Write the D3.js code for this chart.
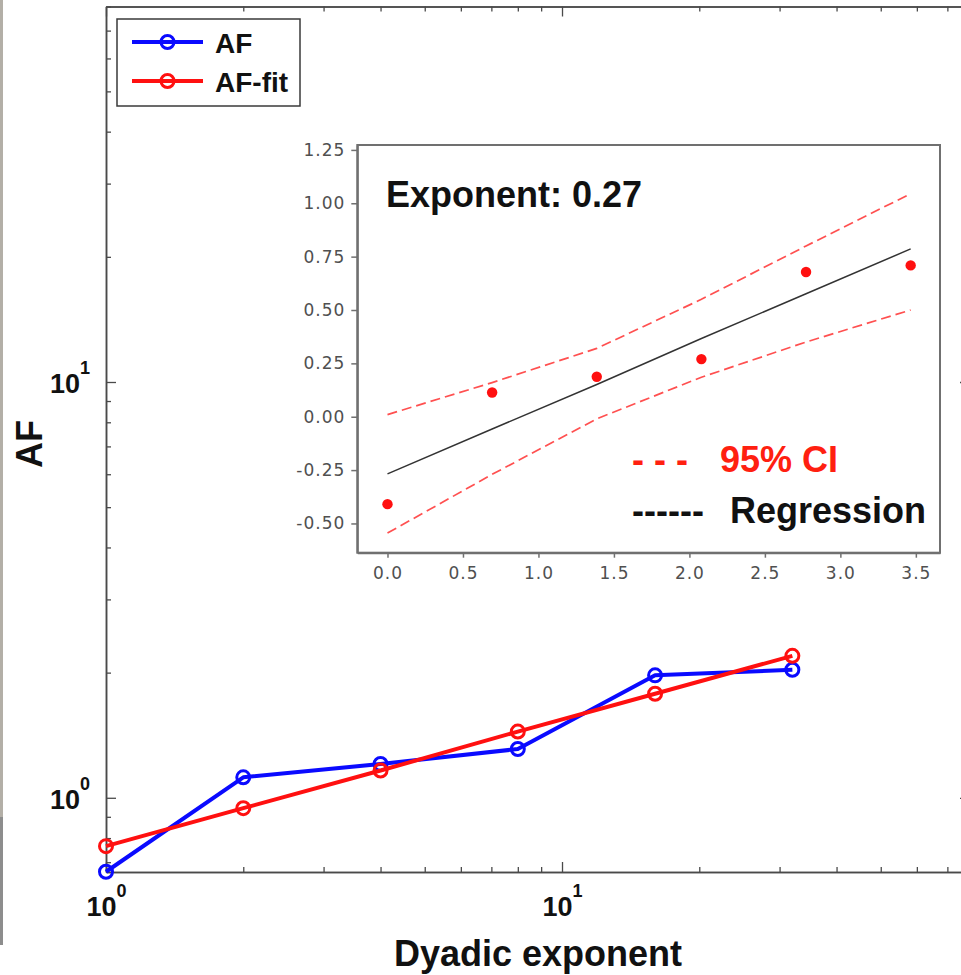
<!DOCTYPE html>
<html>
<head>
<meta charset="utf-8">
<script src="https://cdn.jsdelivr.net/npm/d3@7"></script>
<style>
  html, body { margin: 0; padding: 0; background: #fff; overflow: hidden; }
  svg { display: block; }
</style>
</head>
<body>
<svg id="chart" width="961" height="975"></svg>
<script>
// ---- data ----
const scales = [1, 2, 4, 8, 16, 32];                       // dyadic scale 2^j
const afValues = [0.664, 1.120, 1.206, 1.310, 1.970, 2.032];
const afFitValues = [0.765, 0.944, 1.163, 1.443, 1.779, 2.195];
// 95% confidence band of the log-log regression (natural log units)
const ciUpper = [0.010, 0.160, 0.320, 0.550, 0.800, 1.045];
const ciLower = [-0.545, -0.270, -0.010, 0.185, 0.350, 0.500];
const majorTicks = [1, 10];
const minorTicksX = [2, 3, 4, 5, 6, 7, 8, 9, 20, 30, 40, 50, 60, 70];
const minorTicksY = [0.7, 0.8, 0.9, 2, 3, 4, 5, 6, 7, 8, 9, 20, 30, 40, 50, 60, 70, 80];
const insetXTicks = [0, 0.5, 1, 1.5, 2, 2.5, 3, 3.5];
const insetYTicks = [-0.5, -0.25, 0, 0.25, 0.5, 0.75, 1, 1.25];
const seriesNames = ["AF", "AF-fit"];
const exponentText = "Exponent: 0.27";

const BLUE = "#0a0aff", RED = "#ff1010";
const SANS = "'Liberation Sans', Arial, Helvetica, sans-serif";
const INSET_FONT = "'DejaVu Sans', Verdana, sans-serif";

const svg = d3.select("#chart");

// left border strip of the window
svg.append("rect").attr("x", 0).attr("y", 0).attr("width", 3).attr("height", 817).attr("fill", "#b3afa7");
svg.append("rect").attr("x", 0).attr("y", 817).attr("width", 3).attr("height", 128).attr("fill", "#8d8d8d");

// ---- main log-log axes ----
const L = 106, R = 970, T = 6.5, B = 872;
const x = d3.scaleLog().domain([1, 78.47]).range([L, R]);
const y = d3.scaleLog().domain([0.663, 80]).range([B, T]);

const axisColor = "#4a4a4a";
function styleAxis(g) {
  g.select(".domain").attr("stroke", axisColor).attr("stroke-width", 1.5);
  g.selectAll(".tick line").attr("stroke", axisColor).attr("stroke-width", 1.3);
}
function powerLabels(g, anchor) {
  g.selectAll(".tick text").each(function (d) {
    const t = d3.select(this);
    t.text(null).attr("fill", "#111").attr("font-family", SANS).attr("font-size", 27)
      .attr("font-weight", "bold").attr("text-anchor", anchor);
    t.append("tspan").text("10");
    t.append("tspan").attr("dy", -19).attr("font-size", 18).text(Math.round(Math.log10(d)));
  });
}

// bottom axis
const gx = svg.append("g").attr("transform", `translate(0,${B})`);
gx.call(d3.axisBottom(x).tickValues(minorTicksX).tickSize(-5).tickSizeOuter(0).tickFormat(""));
gx.call(styleAxis);
const gxMaj = svg.append("g").attr("transform", `translate(0,${B})`);
gxMaj.call(d3.axisBottom(x).tickValues(majorTicks).tickSize(-10).tickSizeOuter(0).tickPadding(25).tickFormat(d => d));
gxMaj.call(styleAxis).call(g => powerLabels(g, "middle"));
gxMaj.selectAll(".tick text").attr("dy", "0.71em");

// top axis (mirrored ticks)
const gt = svg.append("g").attr("transform", `translate(0,${T})`);
gt.call(d3.axisTop(x).tickValues(minorTicksX).tickSize(-5).tickSizeOuter(0).tickFormat(""));
gt.call(styleAxis);
const gtMaj = svg.append("g").attr("transform", `translate(0,${T})`);
gtMaj.call(d3.axisTop(x).tickValues(majorTicks).tickSize(-10).tickSizeOuter(0).tickFormat(""));
gtMaj.call(styleAxis);

// left axis
const gy = svg.append("g").attr("transform", `translate(${L},0)`);
gy.call(d3.axisLeft(y).tickValues(minorTicksY).tickSize(-5).tickSizeOuter(0).tickFormat(""));
gy.call(styleAxis);
const gyMaj = svg.append("g").attr("transform", `translate(${L},0)`);
gyMaj.call(d3.axisLeft(y).tickValues(majorTicks).tickSize(-10).tickSizeOuter(0).tickPadding(16).tickFormat(d => d));
gyMaj.call(styleAxis).call(g => powerLabels(g, "end"));
gyMaj.selectAll(".tick text").attr("dy", "0.38em");

// right axis (mirrored ticks)
const gr = svg.append("g").attr("transform", `translate(${R},0)`);
gr.call(d3.axisRight(y).tickValues(minorTicksY).tickSize(-5).tickSizeOuter(0).tickFormat(""));
gr.call(styleAxis);
const grMaj = svg.append("g").attr("transform", `translate(${R},0)`);
grMaj.call(d3.axisRight(y).tickValues(majorTicks).tickSize(-10).tickSizeOuter(0).tickFormat(""));
grMaj.call(styleAxis);

// axis titles
svg.append("text")
  .attr("transform", `translate(41.5,444) rotate(-90)`)
  .attr("text-anchor", "middle").attr("font-family", SANS).attr("font-weight", "bold")
  .attr("font-size", 36).attr("fill", "#111").text("AF");
svg.append("text")
  .attr("x", (L + R) / 2).attr("y", 966)
  .attr("text-anchor", "middle").attr("font-family", SANS).attr("font-weight", "bold")
  .attr("font-size", 36).attr("fill", "#111").text("Dyadic exponent");

// ---- main series ----
const mainSeries = [
  { name: seriesNames[0], values: afValues, color: BLUE },
  { name: seriesNames[1], values: afFitValues, color: RED }
];
const line = d3.line().x(d => x(d[0])).y(d => y(d[1]));
mainSeries.forEach(s => {
  const pts = scales.map((sc, i) => [sc, s.values[i]]);
  const g = svg.append("g");
  g.append("path").datum(pts).attr("d", line)
    .attr("fill", "none").attr("stroke", s.color).attr("stroke-width", 4)
    .attr("stroke-linejoin", "round");
  g.selectAll("circle").data(pts).join("circle")
    .attr("cx", d => x(d[0])).attr("cy", d => y(d[1])).attr("r", 6.5)
    .attr("fill", "none").attr("stroke", s.color).attr("stroke-width", 3);
});

// ---- legend ----
const lg = svg.append("g");
lg.append("rect").attr("x", 117).attr("y", 19).attr("width", 183).attr("height", 87)
  .attr("fill", "#fff").attr("stroke", "#3a3a3a").attr("stroke-width", 1.5);
mainSeries.forEach((s, i) => {
  const yy = 42 + i * 39;
  lg.append("line").attr("x1", 132).attr("x2", 203).attr("y1", yy).attr("y2", yy)
    .attr("stroke", s.color).attr("stroke-width", 4);
  lg.append("circle").attr("cx", 167.5).attr("cy", yy).attr("r", 6.5)
    .attr("fill", "none").attr("stroke", s.color).attr("stroke-width", 3);
  lg.append("line").attr("x1", 164).attr("x2", 171).attr("y1", yy).attr("y2", yy)
    .attr("stroke", s.color).attr("stroke-width", 1.5);
  lg.append("text").attr("x", 215).attr("y", yy + 11)
    .attr("font-family", SANS).attr("font-weight", "bold").attr("font-size", 28)
    .attr("fill", "#111").text(s.name);
});

// ---- inset: log-log regression ----
const IL = 357.3, IR = 940, IT = 145, IB = 552.7;
const ix = d3.scaleLinear().domain([-0.2, 3.66]).range([IL, IR]);
const iy = d3.scaleLinear().domain([-0.637, 1.273]).range([IB, IT]);

const inset = svg.append("g");
inset.append("rect").attr("x", IL).attr("y", IT).attr("width", IR - IL).attr("height", IB - IT)
  .attr("fill", "#fff").attr("stroke", "#707070").attr("stroke-width", 2);

const fmt2 = d3.format(".2f"), fmt1 = d3.format(".1f");
const iyAxis = inset.append("g").attr("transform", `translate(${IL},0)`)
  .call(d3.axisLeft(iy).tickValues(insetYTicks).tickSize(6).tickSizeOuter(0).tickPadding(6)
    .tickFormat(d => fmt2(d).replace("\u2212", "-")));
const ixAxis = inset.append("g").attr("transform", `translate(0,${IB})`)
  .call(d3.axisBottom(ix).tickValues(insetXTicks).tickSize(5).tickSizeOuter(0).tickPadding(9)
    .tickFormat(d => fmt1(d)));
[iyAxis, ixAxis].forEach(g => {
  g.select(".domain").attr("stroke", "#707070").attr("stroke-width", 2);
  g.selectAll(".tick line").attr("stroke", "#707070").attr("stroke-width", 1.5);
  g.selectAll(".tick text").attr("font-family", INSET_FONT).attr("font-size", 17)
    .attr("fill", "#505050").attr("letter-spacing", "1px");
});

const lnScale = scales.map(Math.log);
const iline = d3.line().x(d => ix(d[0])).y(d => iy(d[1]));
[ciUpper, ciLower].forEach(band => {
  inset.append("path").datum(lnScale.map((v, i) => [v, band[i]])).attr("d", iline)
    .attr("fill", "none").attr("stroke", "#ff5050").attr("stroke-width", 1.7)
    .attr("stroke-dasharray", "10,5");
});
inset.append("path").datum(lnScale.map((v, i) => [v, Math.log(afFitValues[i])])).attr("d", iline)
  .attr("fill", "none").attr("stroke", "#333").attr("stroke-width", 1.5);
inset.selectAll("circle.obs").data(lnScale.map((v, i) => [v, Math.log(afValues[i])]))
  .join("circle").attr("class", "obs")
  .attr("cx", d => ix(d[0])).attr("cy", d => iy(d[1])).attr("r", 5.2).attr("fill", RED);

inset.append("text").attr("x", 386).attr("y", 207)
  .attr("font-family", SANS).attr("font-weight", "bold").attr("font-size", 36)
  .attr("fill", "#111").text(exponentText);

const insetLegend = [
  { mark: "- - -", label: "95% CI", color: "#ff2010", y: 472, lx: 720 },
  { mark: "------", label: "Regression", color: "#111", y: 523, lx: 730 }
];
insetLegend.forEach(e => {
  inset.append("text").attr("x", 632).attr("y", e.y)
    .attr("font-family", SANS).attr("font-weight", "bold").attr("font-size", 36)
    .attr("fill", e.color).text(e.mark);
  inset.append("text").attr("x", e.lx).attr("y", e.y)
    .attr("font-family", SANS).attr("font-weight", "bold").attr("font-size", 36)
    .attr("fill", e.color).text(e.label);
});
</script>
</body>
</html>
